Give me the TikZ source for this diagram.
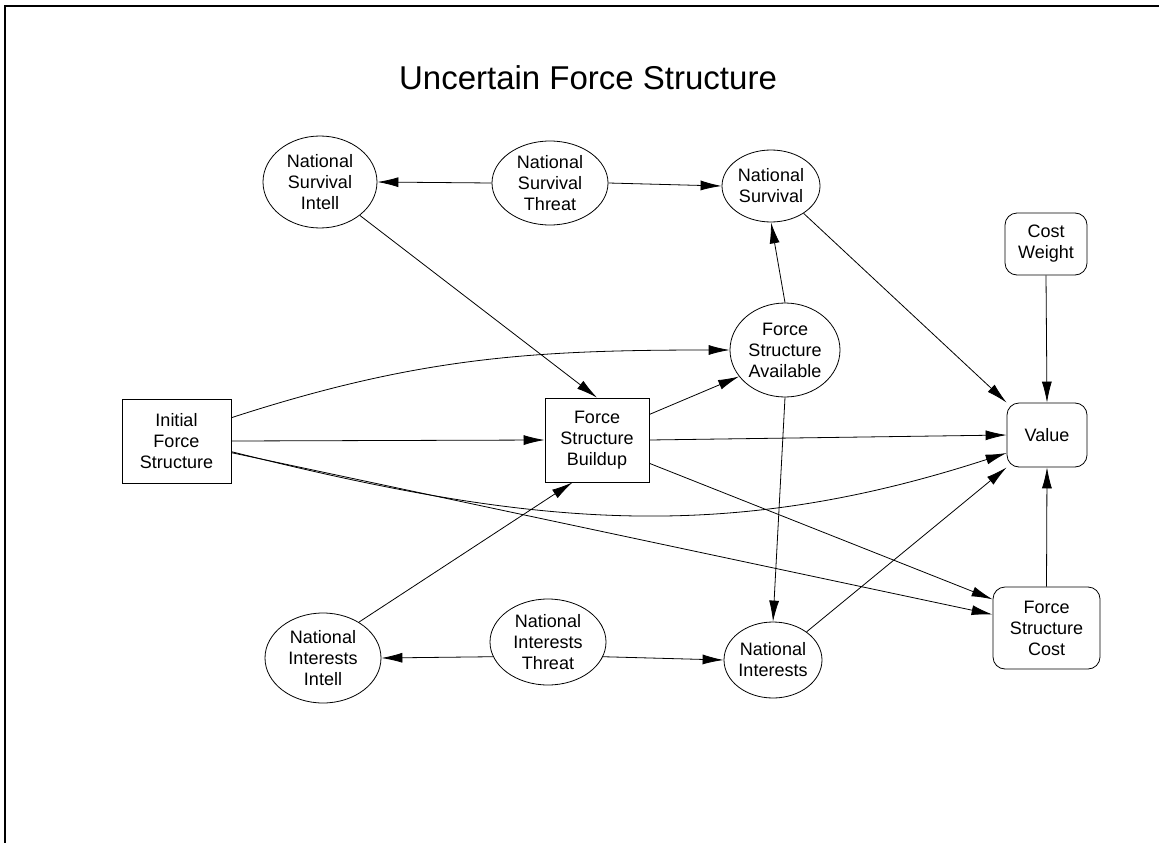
\documentclass[tikz,border=0pt]{standalone}
\usepackage{fontspec}
\setmainfont{Liberation Sans}
\usetikzlibrary{positioning,arrows.meta,shapes.geometric}
\tikzset{
  >={Latex[length=21pt,width=10pt]},
  lbl/.style={font=\fontsize{18}{21}\selectfont,align=center},
  chance/.style={ellipse,draw=black,line width=0.8pt,inner sep=0pt,lbl},
  decis/.style={rectangle,draw=black,line width=0.8pt,inner sep=2pt,lbl},
  valbox/.style={rectangle,rounded corners=12pt,draw=black,line width=0.8pt,
    inner sep=2pt,lbl},
  infl/.style={->,line width=0.8pt},
  frameline/.style={line width=1.3pt},
}
\begin{document}
\begin{tikzpicture}[x=1pt,y=1pt]
  \useasboundingbox (0,0) rectangle (1159,-843);
  \draw[frameline] (5,-843) -- (5,-6) -- (1159,-6);
  \node[font=\fontsize{33}{38}\selectfont] (title) at (588,-78) {Uncertain Force Structure};
  % chance nodes
  \node[chance,minimum width=114pt,minimum height=92pt] (nsi) at (320,-182) {National\\Survival\\Intell};
  \node[chance,minimum width=116pt,minimum height=84pt] (nst) at (550,-183) {National\\Survival\\Threat};
  \node[chance,minimum width=98pt,minimum height=72pt] (ns) at (771,-186) {National\\Survival};
  \node[chance,minimum width=110pt,minimum height=94pt] (fsa) at (785,-350) {Force\\Structure\\Available};
  \node[chance,minimum width=116pt,minimum height=90pt] (nii) at (323,-658) {National\\Interests\\Intell};
  \node[chance,minimum width=116pt,minimum height=86pt] (nit) at (548,-642) {National\\Interests\\Threat};
  \node[chance,minimum width=98pt,minimum height=76pt] (ni) at (773,-660) {National\\Interests};
  % decisions and values
  \node[decis,minimum width=109pt,minimum height=84pt] (ifs) at (176.5,-441) {Initial\\Force\\Structure};
  \node[decis,minimum width=104pt,minimum height=84pt] (fsb) at (597,-440) {Force\\Structure\\Buildup};
  \node[valbox,minimum width=82pt,minimum height=62pt] (cw) at (1046,-244) {Cost\\Weight};
  \node[valbox,minimum width=80pt,minimum height=64pt] (value) at (1047,-435) {Value};
  \node[valbox,minimum width=107pt,minimum height=82pt] (fsc) at (1046.5,-628) {Force\\Structure\\Cost};
  % influences
  \draw[infl] (nst.west) -- (nsi.east);
  \draw[infl] (nst.east) -- (ns.west);
  \draw[infl] (nit.-165) -- (nii.east);
  \draw[infl] (nit.-15) -- (ni.west);
  \draw[infl] (nsi.-40) -- (fsb.north);
  \draw[infl] (nii.45) -- (fsb.-120);
  \draw[infl] (fsa.north) -- (ns.south);
  \draw[infl] (fsa.south) -- (ni.north);
  \draw[infl] (ifs.23) to[out=18,in=180] (fsa.west);
  \draw[infl] (ifs.east) -- (fsb.west);
  \draw[infl] (ifs.-11) to[out=-14,in=198] (value.-156);
  \draw[infl] (ifs.-12) -- (fsc.166);
  \draw[infl] (fsb.26) -- (fsa.-150);
  \draw[infl] (fsb.east) -- (value.west);
  \draw[infl] (fsb.-24) -- (fsc.152);
  \draw[infl] (ns.-40) -- (value.north west);
  \draw[infl] (ni.40) -- (value.south west);
  \draw[infl] (cw.south) -- (value.north);
  \draw[infl] (fsc.north) -- (value.south);
\end{tikzpicture}
\end{document}
